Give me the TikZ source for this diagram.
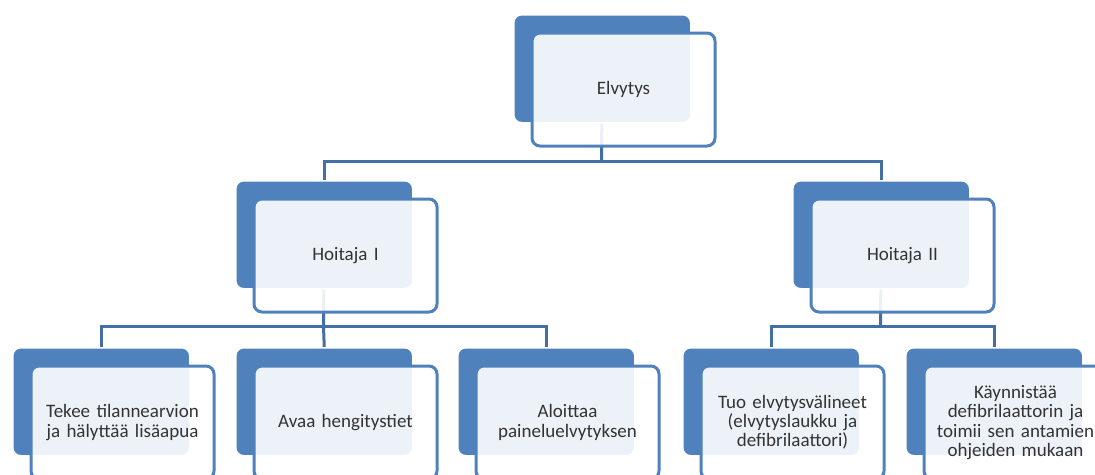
\documentclass[tikz,border=0pt]{standalone}
\usepackage{fontspec}
\setmainfont{Carlito}[WordSpace=0.75]
\usetikzlibrary{backgrounds}
\definecolor{accent}{HTML}{4F81BD}
\definecolor{conn}{HTML}{436FA6}
\definecolor{txt}{HTML}{333333}
\tikzset{
  backbox/.style={fill=accent, draw=white, line width=1.5pt, rounded corners=8pt,
    minimum width=177pt, minimum height=108pt, anchor=north west, inner sep=0pt},
  frontbox/.style={fill=white, fill opacity=0.9, text opacity=1, draw=accent, line width=3pt,
    rounded corners=8pt, minimum width=183pt, minimum height=113pt, anchor=north west,
    inner sep=0pt, text width=178pt, align=center, text=txt,
    font=\fontsize{19}{19.2}\selectfont},
  connector/.style={draw=conn, line width=3pt}
}
\begin{document}
\begin{tikzpicture}[x=1pt,y=1pt]
\clip (0,0) rectangle (1095,-474);
% level 0
\node[backbox] (eb) at (513,-14) {};
\node[frontbox] (e) at (530.5,-31.5) {Elvytys};
% level 1
\node[backbox] (h1b) at (235,-180) {};
\node[frontbox] (h1) at (252.5,-197.5) {Hoitaja I};
\node[backbox] (h2b) at (792,-180) {};
\node[frontbox] (h2) at (809.5,-197.5) {Hoitaja II};
% level 2
\node[backbox] (b1b) at (12,-347) {};
\node[frontbox] (b1) at (29.5,-364.5) {Tekee tilannearvion\\ja hälyttää lisäapua};
\node[backbox] (b2b) at (235,-347) {};
\node[frontbox] (b2) at (252.5,-364.5) {Avaa hengitystiet};
\node[backbox] (b3b) at (457,-347) {};
\node[frontbox] (b3) at (474.5,-364.5) {Aloittaa\\paineluelvytyksen};
\node[backbox] (b4b) at (682,-347) {};
\node[frontbox] (b4) at (699.5,-364.5) {Tuo elvytysvälineet\\(elvytyslaukku ja\\defibrilaattori)};
\node[backbox] (b5b) at (905,-347) {};
\node[frontbox] (b5) at (922.5,-364.5) {Käynnistää\\defibrilaattorin ja\\toimii sen antamien\\ohjeiden mukaan};
% connectors
\coordinate (bus0) at (601.5,-161);
\coordinate (bus1) at (323.5,-326);
\coordinate (bus2) at (880.5,-326);
\begin{scope}[on background layer]
\fill[white] (0,0) rectangle (1095,-474);
\draw[connector] (eb.center) -- (bus0);
\draw[connector] (h1b.north) |- (bus0) -| (h2b.north);
\draw[connector] (h1b.center) -- (bus1);
\draw[connector] (b1b.north) |- (bus1) -| (b3b.north);
\draw[connector] (bus1) -- (b2b.north);
\draw[connector] (h2b.center) -- (bus2);
\draw[connector] (b4b.north) |- (bus2) -| (b5b.north);
\end{scope}
\end{tikzpicture}
\end{document}
